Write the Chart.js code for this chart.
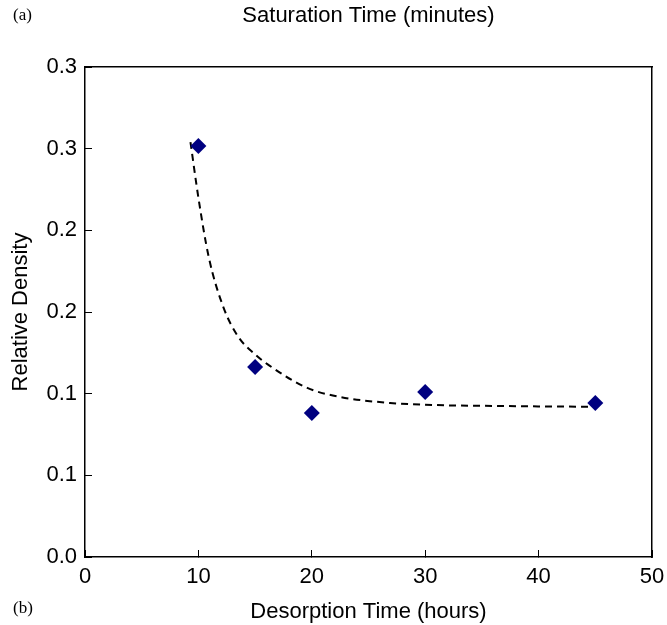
<!DOCTYPE html>
<html>
<head>
<meta charset="utf-8">
<script src="https://cdn.jsdelivr.net/npm/chart.js@4"></script>
<style>
  html, body { margin: 0; padding: 0; background: #fff; }
  #wrap { width: 667px; height: 625px; }
</style>
</head>
<body>
<div id="wrap"><canvas id="mycanvas" width="667" height="625"></canvas></div>
<script>
// measured points
var desorptionHours = [10, 15, 20, 30, 45];
var relativeDensity = [0.2516, 0.1163, 0.0882, 0.1010, 0.0943];

// dashed fitted curve
var fitHours = [9.3, 10.0, 10.9, 12.2, 13.5, 15.0, 16.3, 19.6, 22.5, 26.9, 31, 36, 40, 45];
var fitDensity = [0.254, 0.220, 0.184, 0.153, 0.135, 0.124, 0.117, 0.1035, 0.098, 0.0943, 0.093, 0.0925, 0.0922, 0.092];

// axis ticks
var xTickValues = [0, 10, 20, 30, 40, 50];
var yTickValues = [0, 0.05, 0.1, 0.15, 0.2, 0.25, 0.3];
var yTickLabels = ['0.0', '0.1', '0.1', '0.2', '0.2', '0.3', '0.3'];

Chart.defaults.color = '#000';
Chart.defaults.font.family = '"Liberation Sans", Arial, Helvetica, sans-serif';
Chart.defaults.font.size = 22;

var toXY = function (xs, ys) {
    var out = [];
    for (var i in xs) {
        out.push({x: xs[i], y: ys[i]});
    }
    return out;
};

var panelLetters = {
    id: 'panelLetters',
    afterDraw: function (chart) {
        var ctx = chart.ctx;
        ctx.save();
        ctx.fillStyle = '#000';
        ctx.font = '17px "Liberation Serif", "Times New Roman", serif';
        ctx.textBaseline = 'middle';
        ctx.textAlign = 'left';
        ctx.fillText('(a)', 13, 16);
        ctx.fillText('(b)', 13, 609);
        ctx.restore();
    }
};

var chartdata = {
    datasets: [
        {
            label: 'Measured',
            type: 'scatter',
            data: toXY(desorptionHours, relativeDensity),
            pointStyle: 'rectRot',
            pointRadius: 8,
            pointHoverRadius: 8,
            backgroundColor: '#000080',
            borderColor: '#000080',
            borderWidth: 0,
            order: 0
        },
        {
            label: 'Fit',
            type: 'line',
            data: toXY(fitHours, fitDensity),
            borderColor: '#000',
            borderWidth: 2,
            borderDash: [7, 5],
            pointRadius: 0,
            fill: false,
            cubicInterpolationMode: 'monotone',
            order: 1
        }
    ]
};

var ctx = document.getElementById('mycanvas');

var scatterChart = new Chart(ctx, {
    type: 'scatter',
    data: chartdata,
    plugins: [panelLetters],
    options: {
        responsive: false,
        animation: false,
        layout: { padding: 0 },
        plugins: {
            legend: { display: false },
            tooltip: { enabled: false }
        },
        scales: {
            x: {
                type: 'linear',
                position: 'bottom',
                min: 0,
                max: 50,
                afterBuildTicks: function (scale) {
                    scale.ticks = xTickValues.map(function (v) { return {value: v}; });
                },
                afterFit: function (scale) {
                    scale.height = 68;
                    scale.paddingLeft = 0;
                    scale.paddingRight = 0;
                },
                grid: { drawOnChartArea: false, tickLength: -7, color: '#000', tickWidth: 1 },
                border: { display: true, color: '#000', width: 1.5 },
                ticks: { padding: 14, maxRotation: 0 },
                title: { display: true, text: 'Desorption Time (hours)', padding: { top: 0, bottom: 0 } }
            },
            x2: {
                type: 'linear',
                position: 'top',
                min: 0,
                max: 50,
                afterFit: function (scale) {
                    scale.height = 67;
                    scale.paddingLeft = 0;
                    scale.paddingRight = 0;
                },
                grid: { display: false, drawTicks: false },
                border: { display: true, color: '#000', width: 1.5 },
                ticks: { display: false },
                title: { display: true, text: 'Saturation Time (minutes)', padding: { top: 3, bottom: 0 } }
            },
            y: {
                type: 'linear',
                position: 'left',
                min: 0,
                max: 0.3,
                afterBuildTicks: function (scale) {
                    scale.ticks = yTickValues.map(function (v) { return {value: v}; });
                },
                afterFit: function (scale) { scale.width = 85; },
                grid: { drawOnChartArea: false, tickLength: -7, color: '#000', tickWidth: 1 },
                border: { display: true, color: '#000', width: 1.5 },
                ticks: {
                    padding: 15,
                    callback: function (value, index) { return yTickLabels[index]; }
                },
                title: { display: true, text: 'Relative Density', padding: { top: 8, bottom: 0 } }
            },
            y2: {
                type: 'linear',
                position: 'right',
                min: 0,
                max: 0.3,
                afterFit: function (scale) { scale.width = 15; },
                grid: { display: false, drawTicks: false },
                border: { display: true, color: '#000', width: 1.5 },
                ticks: { display: false }
            }
        }
    }
});
</script>
</body>
</html>
